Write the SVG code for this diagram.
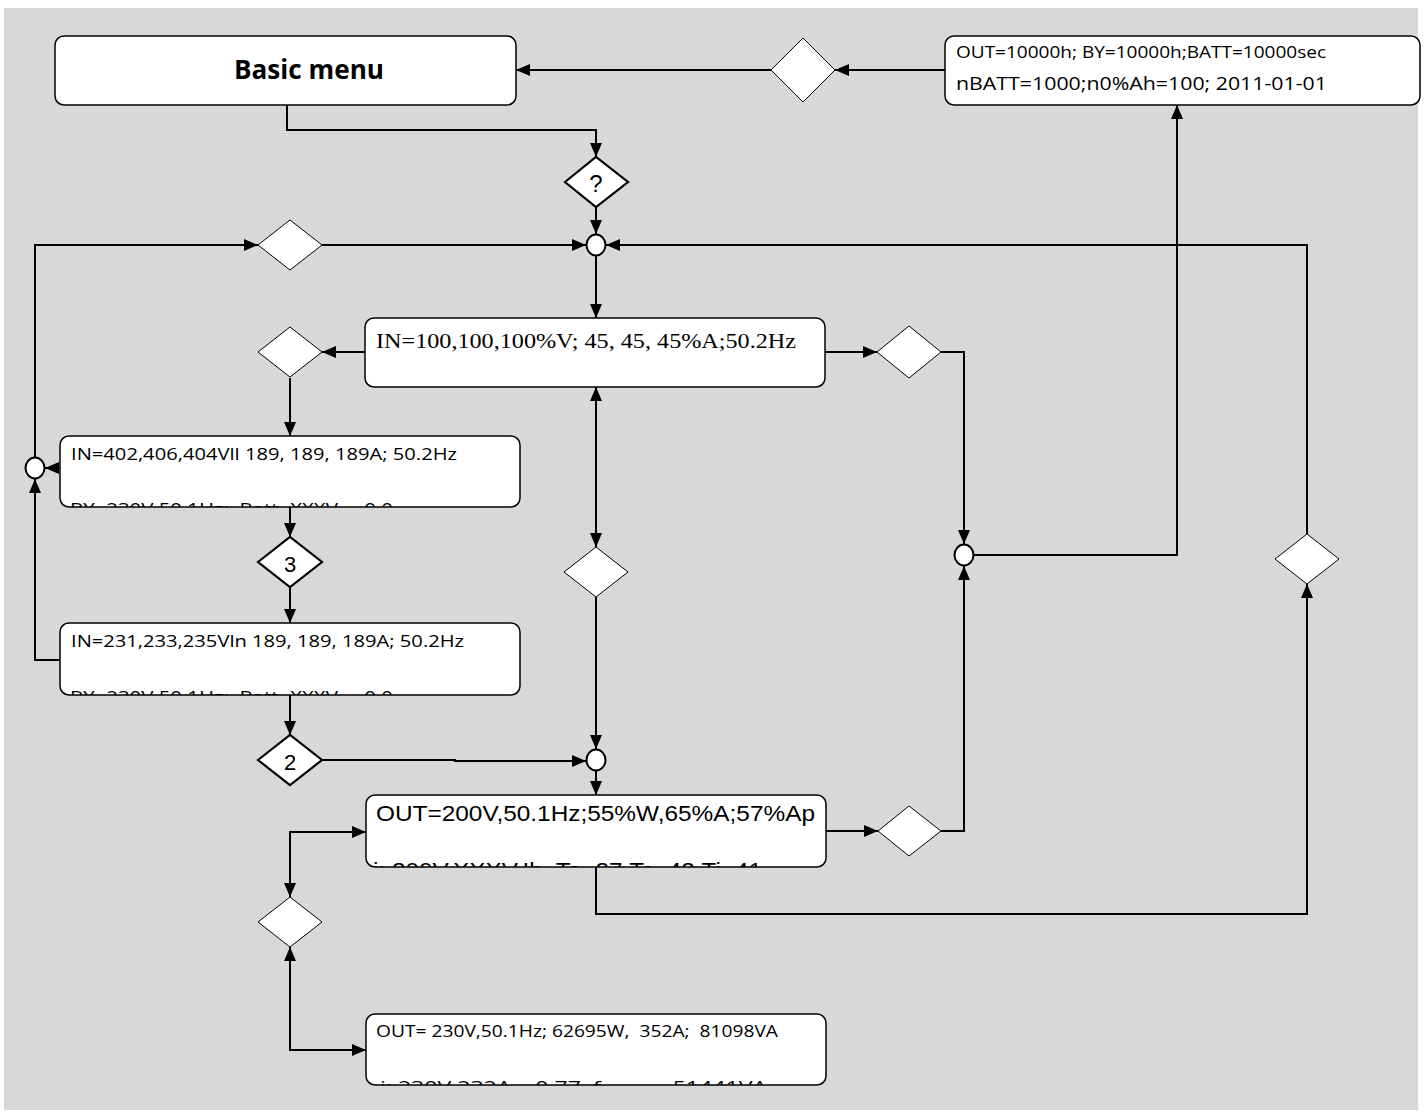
<svg xmlns="http://www.w3.org/2000/svg" width="1427" height="1118" viewBox="0 0 1427 1118">
<style>
.box{fill:#fff;stroke:#000;stroke-width:1.5}
.dia{fill:#fff;stroke:#000;stroke-width:1}
.diab{fill:#fff;stroke:#000;stroke-width:2.2}
.jn{fill:#fff;stroke:#000;stroke-width:2}
.cn{fill:none;stroke:#000;stroke-width:2}
.cal{font-family:"Open Sans","Liberation Sans",sans-serif;fill:#000;white-space:pre}
.tim{font-family:"Liberation Serif",serif;fill:#000;white-space:pre}
.ari{font-family:"Liberation Sans",sans-serif;fill:#000;white-space:pre}
</style>
<defs>
<marker id="ah" viewBox="0 0 14 12" refX="14" refY="6" markerWidth="14" markerHeight="12" markerUnits="userSpaceOnUse" orient="auto-start-reverse">
<path d="M0,0 L14,6 L0,12 z" fill="#000"/>
</marker>
<clipPath id="cb2"><rect x="60" y="436" width="460" height="71" rx="9"/></clipPath>
<clipPath id="cb3"><rect x="60" y="623" width="460" height="72" rx="9"/></clipPath>
<clipPath id="cbo"><rect x="366" y="795" width="460" height="72" rx="9"/></clipPath>
<clipPath id="cbb"><rect x="366" y="1014" width="460" height="71" rx="9"/></clipPath>
</defs>
<rect x="4" y="8" width="1414" height="1102" fill="#d8d8d8"/>

<g id="connectors">
<path class="cn" d="M945,70 H835" marker-end="url(#ah)"/>
<path class="cn" d="M771,70 H516" marker-end="url(#ah)"/>
<path class="cn" d="M287,105 V130 H596 V157" marker-end="url(#ah)"/>
<path class="cn" d="M596,207 V234" marker-end="url(#ah)"/>
<path class="cn" d="M596,256 V318" marker-end="url(#ah)"/>
<path class="cn" d="M35,457 V245 H258" marker-end="url(#ah)"/>
<path class="cn" d="M322,245 H586" marker-end="url(#ah)"/>
<path class="cn" d="M1307,534 V245 H606" marker-end="url(#ah)"/>
<path class="cn" d="M365,352 H322" marker-end="url(#ah)"/>
<path class="cn" d="M290,378 V436" marker-end="url(#ah)"/>
<path class="cn" d="M60,468 H45" marker-end="url(#ah)"/>
<path class="cn" d="M290,507 V537" marker-end="url(#ah)"/>
<path class="cn" d="M290,587 V623" marker-end="url(#ah)"/>
<path class="cn" d="M60,660 H35 V479" marker-end="url(#ah)"/>
<path class="cn" d="M290,695 V735" marker-end="url(#ah)"/>
<path class="cn" d="M322,760 H455 V761 H586" marker-end="url(#ah)"/>
<path class="cn" d="M596,387 V547" marker-start="url(#ah)" marker-end="url(#ah)"/>
<path class="cn" d="M596,597 V749" marker-end="url(#ah)"/>
<path class="cn" d="M596,771 V795" marker-end="url(#ah)"/>
<path class="cn" d="M366,832 H290 V897" marker-start="url(#ah)" marker-end="url(#ah)"/>
<path class="cn" d="M366,1050 H290 V947" marker-start="url(#ah)" marker-end="url(#ah)"/>
<path class="cn" d="M825,352 H877" marker-end="url(#ah)"/>
<path class="cn" d="M941,352 H964 V544" marker-end="url(#ah)"/>
<path class="cn" d="M826,831 H878" marker-end="url(#ah)"/>
<path class="cn" d="M941,831 H964 V566" marker-end="url(#ah)"/>
<path class="cn" d="M974,555 H1177 V105" marker-end="url(#ah)"/>
<path class="cn" d="M596,867 V914 H1307 V584" marker-end="url(#ah)"/>
</g>

<g id="basic-menu">
<rect class="box" x="55" y="36" width="461" height="69" rx="9"/>
<text class="cal" x="309" y="79" font-size="26" font-weight="bold" text-anchor="middle" textLength="150" lengthAdjust="spacingAndGlyphs">Basic menu</text>
</g>
<g id="counters">
<rect class="box" x="945" y="36" width="475" height="69" rx="9"/>
<text class="cal" x="956" y="58" font-size="16" textLength="370" lengthAdjust="spacingAndGlyphs">OUT=10000h; BY=10000h;BATT=10000sec</text>
<text class="cal" x="956" y="90" font-size="19" textLength="371" lengthAdjust="spacingAndGlyphs">nBATT=1000;n0%Ah=100; 2011-01-01</text>
</g>
<g id="d-top"><polygon class="dia" points="771,70 803,38 835,70 803,102"/></g>
<g id="d-q"><polygon class="diab" points="565,182 596,157 628,182 596,207"/>
<text class="ari" x="596" y="192" font-size="24" text-anchor="middle">?</text></g>
<g id="j1"><ellipse class="jn" cx="596" cy="245" rx="9.5" ry="10.5"/></g>
<g id="d-l1"><polygon class="dia" points="258,245 290,220 322,245 290,270"/></g>

<g id="in-pct">
<rect class="box" x="365" y="318" width="460" height="69" rx="9"/>
<text class="tim" x="376" y="348" font-size="21" textLength="420" lengthAdjust="spacingAndGlyphs">IN=100,100,100%V; 45, 45, 45%A;50.2Hz</text>
</g>
<g id="d-l2"><polygon class="dia" points="258,352 290,327 322,352 290,377"/></g>
<g id="d-r1"><polygon class="dia" points="877,352 909,326 941,352 909,378"/></g>

<g id="in-vll">
<rect class="box" x="60" y="436" width="460" height="71" rx="9"/>
<text class="cal" x="71" y="460" font-size="17" textLength="386" lengthAdjust="spacingAndGlyphs">IN=402,406,404Vll 189, 189, 189A; 50.2Hz</text>
<text class="cal" x="70" y="515" font-size="17" textLength="323" lengthAdjust="spacingAndGlyphs" clip-path="url(#cb2)">BY=230V,50.1Hz;  Batt=XXXV     0.0</text>
</g>
<g id="j-left"><ellipse class="jn" cx="35" cy="468" rx="9.5" ry="10.5"/></g>
<g id="d-3"><polygon class="diab" points="258,562 290,537 322,562 290,587"/>
<text class="ari" x="290" y="572" font-size="22" text-anchor="middle">3</text></g>

<g id="in-vln">
<rect class="box" x="60" y="623" width="460" height="72" rx="9"/>
<text class="cal" x="71" y="647" font-size="17" textLength="393" lengthAdjust="spacingAndGlyphs">IN=231,233,235Vln 189, 189, 189A; 50.2Hz</text>
<text class="cal" x="70" y="703" font-size="17" textLength="323" lengthAdjust="spacingAndGlyphs" clip-path="url(#cb3)">BY=230V,50.1Hz;  Batt=XXXV     0.0</text>
</g>
<g id="d-2"><polygon class="diab" points="258,760 290,735 322,760 290,785"/>
<text class="ari" x="290" y="770" font-size="22" text-anchor="middle">2</text></g>

<g id="d-mid"><polygon class="dia" points="564,572 596,547 628,572 596,597"/></g>
<g id="j2"><ellipse class="jn" cx="596" cy="760" rx="9.5" ry="10.5"/></g>

<g id="out-pct">
<rect class="box" x="366" y="795" width="460" height="72" rx="9"/>
<text class="ari" x="376" y="821" font-size="22" textLength="439" lengthAdjust="spacingAndGlyphs">OUT=200V,50.1Hz;55%W,65%A;57%Ap</text>
<text class="ari" x="373" y="878" font-size="22" textLength="389" lengthAdjust="spacingAndGlyphs" clip-path="url(#cbo)">i: 200V,XXXV,Ib  Ta=27,Tc=42,Ti=41</text>
</g>
<g id="d-r2"><polygon class="dia" points="878,831 909,806 941,831 909,856"/></g>
<g id="j3"><ellipse class="jn" cx="964" cy="555" rx="9.5" ry="10.5"/></g>
<g id="d-r3"><polygon class="dia" points="1275,559 1307,534 1339,559 1307,584"/></g>

<g id="d-b"><polygon class="dia" points="258,922 290,897 322,922 290,947"/></g>
<g id="out-abs">
<rect class="box" x="366" y="1014" width="460" height="71" rx="9"/>
<text class="cal" x="376" y="1037" font-size="17" textLength="402" lengthAdjust="spacingAndGlyphs">OUT= 230V,50.1Hz; 62695W,  352A;  81098VA</text>
<text class="cal" x="380" y="1093" font-size="17" textLength="387" lengthAdjust="spacingAndGlyphs" clip-path="url(#cbb)">i: 230V,232A    0.77  f            51441VA</text>
</g>
</svg>
